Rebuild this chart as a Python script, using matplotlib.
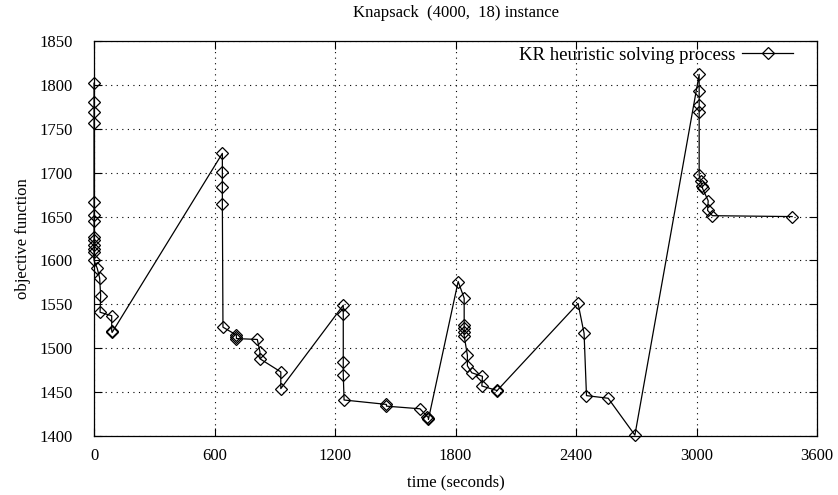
import matplotlib
matplotlib.use("Agg")
import matplotlib.pyplot as plt

plt.rcParams["font.family"] = ["Liberation Serif", "DejaVu Serif"]

# KR heuristic solving process: time (s) and objective value
time_s = [
    0, 0, 0, 0, 0, 0, 0, 0, 0, 0, 0, 0, 0, 16, 28, 33, 30, 88, 88, 90,
    639, 639, 639, 639, 642, 709, 709, 709, 813, 826, 826, 930, 930,
    1241, 1241, 1241, 1241, 1245, 1456, 1456, 1623, 1660, 1665, 1665,
    1813, 1843, 1843, 1843, 1843, 1843, 1859, 1859, 1881, 1934, 1931, 2004, 2004,
    2410, 2440, 2452, 2560, 2693,
    3013, 3013, 3013, 3013, 3013, 3020, 3028, 3030, 3058, 3055, 3079, 3476,
]
objective = [
    1802, 1781, 1769, 1757, 1667, 1652, 1645, 1627, 1623, 1618, 1613, 1610, 1600,
    1591, 1580, 1560, 1541, 1537, 1520, 1518,
    1722, 1701, 1684, 1664, 1524, 1515, 1513, 1511, 1510, 1496, 1488, 1473, 1454,
    1549, 1539, 1484, 1470, 1441, 1436, 1434, 1431, 1422, 1421, 1419,
    1576, 1557, 1527, 1523, 1518, 1514, 1492, 1480, 1472, 1468, 1457, 1452, 1451,
    1551, 1517, 1446, 1443, 1401,
    1812, 1793, 1777, 1769, 1697, 1690, 1685, 1682, 1668, 1657, 1651, 1650,
]

x_ticks = [0, 600, 1200, 1800, 2400, 3000, 3600]
y_ticks = list(range(1400, 1851, 50))

fig = plt.figure(figsize=(8.38, 4.95), dpi=100)
ax = fig.add_axes([0.1122, 0.1192, 0.8628, 0.7979])

ax.plot(time_s, objective, color="black", linewidth=0.9, marker="D",
        markersize=6.5, markerfacecolor="none", markeredgecolor="black",
        markeredgewidth=0.9, label="KR heuristic solving process",
        clip_on=False, zorder=3)

ax.set_xlim(0, 3600)
ax.set_ylim(1400, 1850)
ax.set_xticks(x_ticks)
ax.set_yticks(y_ticks)
ax.tick_params(direction="in", length=6, width=0.8, top=True, right=True,
               labelsize=12)
ax.tick_params(axis="y", pad=15)
ax.tick_params(axis="x", pad=9)
ax.grid(True, color="black", linestyle=(0, (1, 4)), linewidth=0.8)
for s in ax.spines.values():
    s.set_linewidth(0.9)

ax.set_title("Knapsack  (4000,  18) instance", fontsize=12, pad=17)
ax.set_xlabel("time (seconds)", fontsize=12, labelpad=7)
ax.set_ylabel("objective function", fontsize=12, labelpad=6)

ax.legend(loc="upper right", bbox_to_anchor=(0.977, 1.005), frameon=False,
          markerfirst=False, fontsize=13.5, handlelength=2.7,
          borderaxespad=0, handletextpad=0.35)

fig.savefig("out.png", dpi=100)
